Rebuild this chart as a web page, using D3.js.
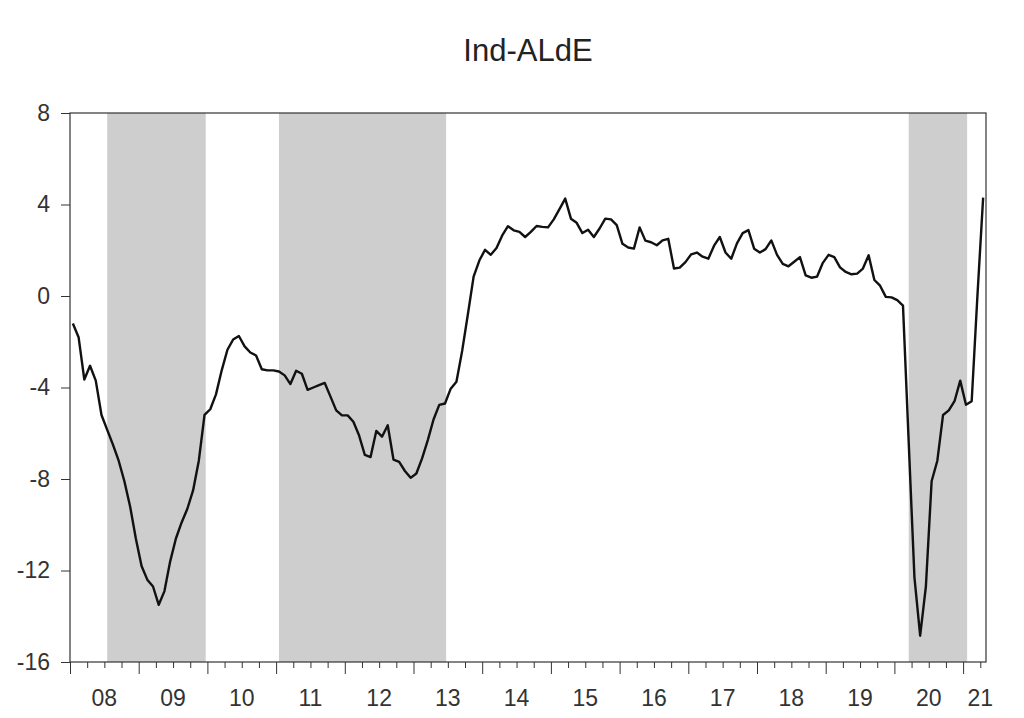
<!DOCTYPE html>
<html lang="en">
<head>
  <meta charset="utf-8">
  <title>Ind-ALdE</title>
  <script src="https://d3js.org/d3.v7.min.js"></script>
  <style>
    body {
      margin: 0;
      background: #fff;
    }
    svg {
      display: block;
      font-family: Arial, "Liberation Sans", sans-serif;
    }
    .axis text {
      fill: #333;
    }
    .axis line {
      stroke: #333;
    }
  </style>
</head>
<body>
  <div id="chart"></div>

  <script>
    // Monthly series, starting January 2008
    const title = "Ind-ALdE";
    const firstYear = 2008;
    const values = [
      -1.2, -1.8, -3.65, -3.05, -3.7, -5.2, -5.85, -6.5, -7.2, -8.1, -9.2, -10.6,       // 2008
      -11.8, -12.4, -12.7, -13.5, -12.9, -11.6, -10.6, -9.9, -9.3, -8.5, -7.2, -5.2,    // 2009
      -4.95, -4.3, -3.25, -2.35, -1.9, -1.75, -2.2, -2.47, -2.6, -3.2, -3.25, -3.25,    // 2010
      -3.3, -3.47, -3.85, -3.27, -3.4, -4.1, -4.0, -3.9, -3.8, -4.4, -5.0, -5.22,       // 2011
      -5.22, -5.5, -6.1, -6.95, -7.04, -5.9, -6.15, -5.65, -7.15, -7.25, -7.65, -7.95,  // 2012
      -7.76, -7.1, -6.3, -5.4, -4.76, -4.7, -4.05, -3.75, -2.4, -0.8, 0.85, 1.55,       // 2013
      2.02, 1.8, 2.1, 2.65, 3.05, 2.87, 2.8, 2.58, 2.8, 3.06, 3.02, 3.0,                // 2014
      3.35, 3.8, 4.26, 3.38, 3.2, 2.75, 2.9, 2.58, 2.95, 3.38, 3.35, 3.1,               // 2015
      2.28, 2.12, 2.07, 3.0, 2.42, 2.35, 2.22, 2.43, 2.5, 1.2, 1.24, 1.48,              // 2016
      1.82, 1.9, 1.72, 1.63, 2.2, 2.58, 1.9, 1.63, 2.3, 2.75, 2.88, 2.07,               // 2017
      1.9, 2.05, 2.43, 1.8, 1.4, 1.3, 1.5, 1.7, 0.9, 0.8, 0.85, 1.45,                   // 2018
      1.8, 1.7, 1.25, 1.05, 0.95, 0.98, 1.2, 1.78, 0.7, 0.45, -0.04, -0.06,             // 2019
      -0.18, -0.42, -6.4, -12.3, -14.85, -12.7, -8.1, -7.2, -5.2, -5.0, -4.6, -3.7,     // 2020
      -4.75, -4.6, 0.0, 4.3                                                             // 2021
    ];
    const yearLabels = ["08", "09", "10", "11", "12", "13", "14", "15", "16", "17", "18", "19", "20", "21"];
    const yTicks = [-16, -12, -8, -4, 0, 4, 8];
    const yDomain = [-16, 8];
    const shadedPeriods = [
      ["2008-07", "2009-12"],
      ["2011-01", "2013-06"],
      ["2020-03", "2021-01"]
    ];

    // Dimensions and margins
    const width = 1024;
    const height = 718;
    const margin = { top: 113, right: 38, bottom: 56, left: 70 };

    const svg = d3.select("#chart")
      .append("svg")
      .attr("width", width)
      .attr("height", height);

    // month index -> x, one slot per observation
    const x = d3.scaleLinear()
      .domain([0, values.length])
      .range([margin.left, width - margin.right]);

    const y = d3.scaleLinear()
      .domain(yDomain)
      .range([height - margin.bottom, margin.top]);

    function monthIndex(s) {
      const [yy, mm] = s.split("-").map(Number);
      return (yy - firstYear) * 12 + (mm - 1);
    }

    // Shaded periods
    svg.append("g")
      .selectAll("rect")
      .data(shadedPeriods)
      .join("rect")
      .attr("x", d => x(monthIndex(d[0]) + 0.5))
      .attr("y", y(yDomain[1]))
      .attr("width", d => x(monthIndex(d[1]) + 0.7) - x(monthIndex(d[0]) + 0.5))
      .attr("height", y(yDomain[0]) - y(yDomain[1]))
      .attr("fill", "#cecece");

    // Series line
    const line = d3.line()
      .x((d, i) => x(i + 0.5))
      .y(d => y(d));

    svg.append("path")
      .datum(values)
      .attr("fill", "none")
      .attr("stroke", "#111")
      .attr("stroke-width", 2.4)
      .attr("stroke-linejoin", "round")
      .attr("d", line);

    // Frame
    svg.append("rect")
      .attr("x", margin.left)
      .attr("y", margin.top)
      .attr("width", width - margin.left - margin.right)
      .attr("height", height - margin.top - margin.bottom)
      .attr("fill", "none")
      .attr("stroke", "#333")
      .attr("stroke-width", 1.2);

    // Y axis (plain hyphen for negatives)
    svg.append("g")
      .attr("class", "axis")
      .attr("transform", `translate(${margin.left},0)`)
      .call(d3.axisLeft(y).tickValues(yTicks).tickSize(9).tickPadding(11).tickFormat(d => String(d)))
      .call(g => g.select(".domain").remove())
      .call(g => g.selectAll("text").style("font-size", "23px"));

    // X axis: major ticks at year starts, minor at quarters
    const yearStarts = d3.range(0, values.length, 12);
    const quarters = d3.range(0, values.length + 1, 3).filter(m => m % 12 !== 0);

    svg.append("g")
      .attr("class", "axis")
      .attr("transform", `translate(0,${height - margin.bottom})`)
      .call(d3.axisBottom(x).tickValues(yearStarts).tickSize(12).tickFormat(""))
      .call(g => g.select(".domain").remove());

    svg.append("g")
      .attr("class", "axis")
      .attr("transform", `translate(0,${height - margin.bottom})`)
      .call(d3.axisBottom(x).tickValues(quarters).tickSize(6).tickFormat(""))
      .call(g => g.select(".domain").remove());

    // Year labels centred on the months each year covers
    svg.append("g")
      .attr("class", "axis")
      .selectAll("text")
      .data(yearLabels)
      .join("text")
      .attr("x", (d, k) => {
        const start = k * 12;
        const avail = Math.min(12, values.length - start);
        return x(start + Math.min(6, avail - 1));
      })
      .attr("y", height - 12)
      .attr("text-anchor", "middle")
      .style("font-size", "23px")
      .text(d => d);

    // Title
    svg.append("text")
      .attr("x", (margin.left + width - margin.right) / 2)
      .attr("y", 61)
      .attr("text-anchor", "middle")
      .style("font-size", "31px")
      .style("fill", "#222")
      .text(title);
  </script>
</body>
</html>
